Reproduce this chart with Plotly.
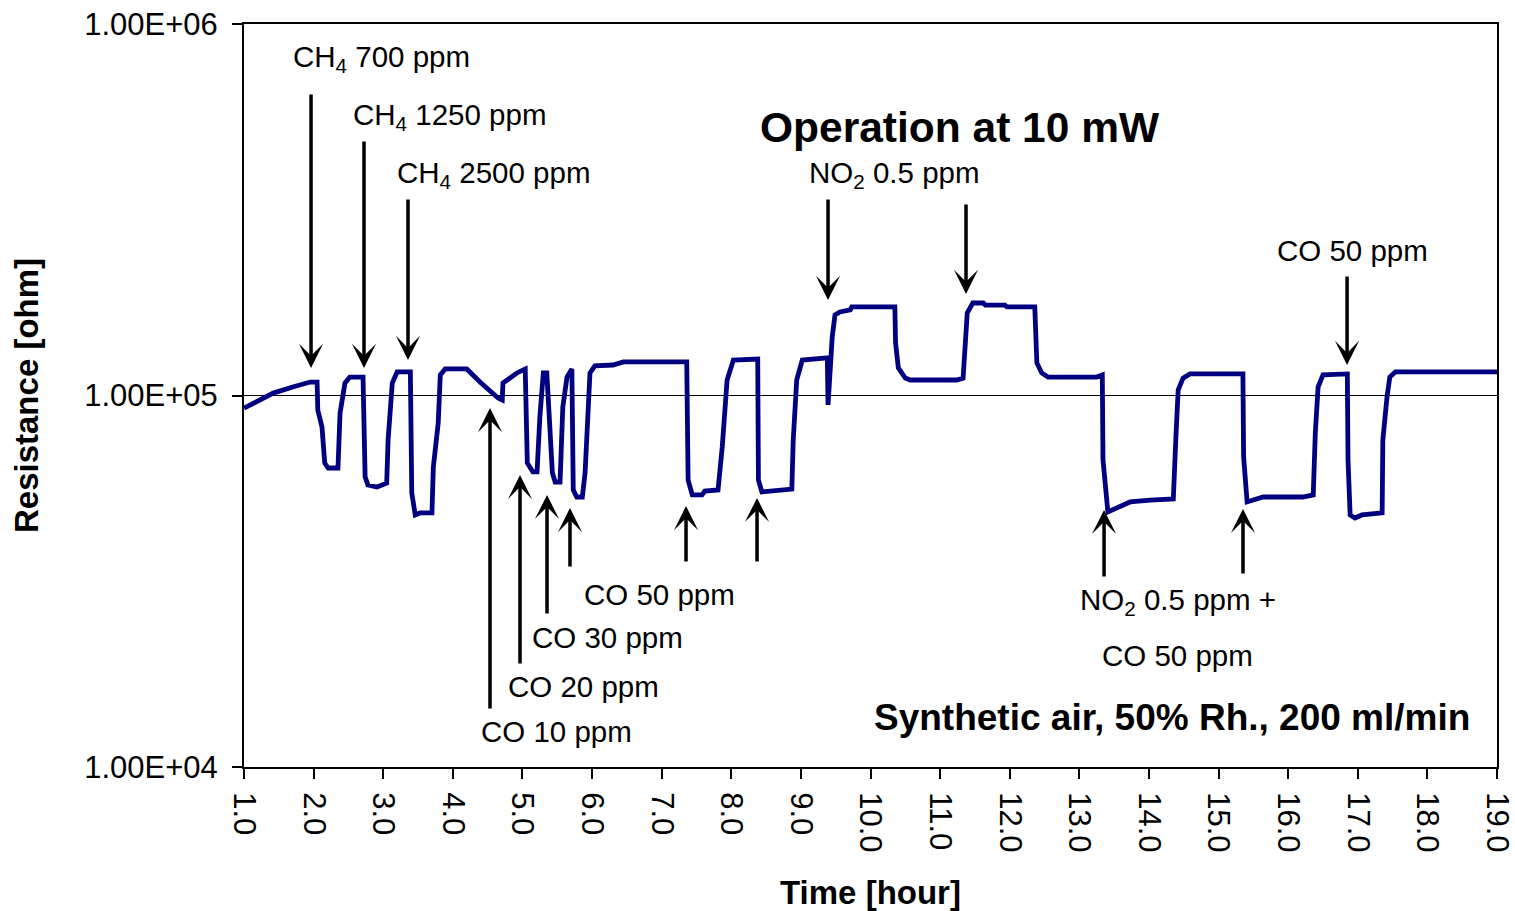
import numpy as np
import plotly.graph_objects as go

# ---- measured series (time in hours, resistance in ohm) ----
time_h = [1.00, 1.42, 1.70, 1.95, 2.05,
          2.06, 2.12, 2.16, 2.21, 2.35,
          2.38, 2.45, 2.52, 2.71,
          2.74, 2.78, 2.91, 3.05,
          3.07, 3.13, 3.20, 3.39,
          3.41, 3.46, 3.53, 3.70,
          3.72, 3.79, 3.82, 3.89, 4.20,
          4.39, 4.65, 4.71,
          4.72, 4.92, 5.04,
          5.07, 5.15, 5.21,
          5.25, 5.30, 5.35,
          5.43, 5.47, 5.54,
          5.58, 5.64, 5.71,
          5.73, 5.78, 5.86,
          5.90, 5.97, 6.04, 6.30, 6.45, 7.36,
          7.38, 7.44, 7.58, 7.62, 7.81,
          7.87, 7.94, 8.03, 8.38,
          8.39, 8.44, 8.60, 8.87,
          8.89, 8.94, 9.02, 9.38,
          9.39, 9.42, 9.45, 9.49, 9.56, 9.71, 9.73, 10.35,
          10.36, 10.40, 10.50, 10.57, 11.24, 11.33,
          11.39, 11.47, 11.62, 11.65, 11.93, 11.96, 12.36,
          12.39, 12.46, 12.55, 13.25, 13.33,
          13.34, 13.41, 13.58, 13.73, 14.02, 14.35,
          14.39, 14.42, 14.49, 14.59, 15.35,
          15.36, 15.41, 15.48, 15.64, 16.21, 16.36,
          16.39, 16.43, 16.50, 16.85,
          16.86, 16.89, 16.96, 17.06, 17.35,
          17.36, 17.42, 17.46, 17.54, 19.00]

resistance_ohm = [92500, 101500, 105400, 108700, 108700,
                  91400, 82300, 65800, 63800, 63800,
                  89700, 108000, 112100, 112100,
                  60400, 57400, 56700, 58100,
                  75900, 108000, 115700, 115700,
                  54700, 47700, 48300, 48300,
                  64200, 84300, 113600, 117900, 117900,
                  108700, 98500, 97300,
                  108000, 115000, 117900,
                  65800, 62300, 62300,
                  87500, 115000, 115000,
                  61900, 58500, 58500,
                  93100, 112100, 117900,
                  55700, 53300, 53300,
                  61900, 115000, 120100, 120800, 123100, 123100,
                  59200, 54000, 54000, 55300, 55700,
                  72700, 110100, 124600, 125400,
                  59200, 55000, 55300, 56000,
                  75900, 110100, 124600, 126200,
                  94300, 122300, 143700, 164700, 167800, 169900, 173100, 173100,
                  138500, 118600, 111400, 110100, 110100, 111400,
                  166800, 177400, 177400, 175200, 175200, 173100, 173100,
                  122300, 115000, 112100, 112100, 113600,
                  67100, 48600, 50100, 51700, 52300, 52700,
                  79300, 103500, 111400, 114300, 114300,
                  68300, 51700, 52300, 53300, 53300, 54000,
                  79300, 105400, 113600, 114300,
                  67100, 47700, 46800, 47700, 48300,
                  75900, 99100, 112100, 115700, 115700]

# ---- gas-event arrows: event time, arrow tip and tail resistance ----
arrow_time_h = [1.963, 2.724, 3.356, 9.390, 11.372, 16.846,
                4.534, 4.965, 5.353, 5.683, 7.350, 8.370, 13.355, 15.351]
arrow_tip_ohm = [118600, 118600, 124600, 180800, 187600, 120800,
                 92500, 61100, 54000, 49800, 50400, 53000, 49200, 49500]
arrow_tail_ohm = [652000, 487300, 340100, 340100, 329800, 211100,
                  14240, 18820, 25660, 34340, 35410, 35410, 32270, 32870]

# ---- labels ----
event_labels = ["CH<sub>4</sub> 700 ppm", "CH<sub>4</sub> 1250 ppm", "CH<sub>4</sub> 2500 ppm",
                "NO<sub>2</sub> 0.5 ppm", "CO 50 ppm",
                "CO 10 ppm", "CO 20 ppm", "CO 30 ppm", "CO 50 ppm",
                "NO<sub>2</sub> 0.5 ppm +", "CO 50 ppm"]
label_x_h = [1.68, 2.53, 3.17, 9.09, 15.81, 4.37, 4.77, 5.11, 5.86, 12.98, 13.30]
label_y_ohm = [810000, 565400, 392300, 392300, 246400, 12500, 16520, 22250, 29220, 27980, 19900]

x_tick_vals = list(range(1, 20))
x_tick_text = ["1.0", "2.0", "3.0", "4.0", "5.0", "6.0", "7.0", "8.0", "9.0", "10.0",
               "11.0", "12.0", "13.0", "14.0", "15.0", "16.0", "17.0", "18.0", "19.0"]
y_tick_vals = [1e4, 1e5, 1e6]
y_tick_text = ["1.00E+04", "1.00E+05", "1.00E+06"]

FONT = "Arial, 'Liberation Sans', sans-serif"

fig = go.Figure()
fig.add_trace(go.Scatter(x=time_h, y=resistance_ohm, mode="lines",
                         line=dict(color="#000080", width=4.8),
                         showlegend=False, hoverinfo="x+y"))

annotations = []
for t, tip, tail in zip(arrow_time_h, arrow_tip_ohm, arrow_tail_ohm):
    annotations.append(dict(x=t, y=np.log10(tip), xref="x", yref="y",
                            ax=t, ay=np.log10(tail), axref="x", ayref="y",
                            text="", showarrow=True, arrowhead=3, arrowsize=1.15,
                            arrowwidth=3.5, arrowcolor="black", standoff=0))
for txt, lx, ly in zip(event_labels, label_x_h, label_y_ohm):
    annotations.append(dict(x=lx, y=np.log10(ly), xref="x", yref="y", text=txt,
                            showarrow=False, xanchor="left", yanchor="middle",
                            font=dict(family=FONT, size=29.5, color="black")))
annotations.append(dict(x=8.38, y=np.log10(525000), xref="x", yref="y",
                        text="<b>Operation at 10 mW</b>", showarrow=False,
                        xanchor="left", yanchor="middle",
                        font=dict(family=FONT, size=42.5, color="black")))
annotations.append(dict(x=18.641, y=np.log10(13630), xref="x", yref="y",
                        text="<b>Synthetic air, 50% Rh., 200 ml/min</b>", showarrow=False,
                        xanchor="right", yanchor="middle",
                        font=dict(family=FONT, size=37, color="black")))

fig.update_layout(
    width=1515, height=911,
    margin=dict(l=244, r=18, t=24, b=144, autoexpand=False),
    paper_bgcolor="white", plot_bgcolor="white",
    font=dict(family=FONT, color="black"),
    annotations=annotations,
    xaxis=dict(range=[1, 19], tickvals=x_tick_vals, ticktext=x_tick_text,
               tickangle=90, ticks="outside", ticklen=10, tickwidth=1.5, tickcolor="black",
               ticklabelstandoff=7, automargin=False,
               showgrid=False, zeroline=False, showline=True, linewidth=2,
               linecolor="black", mirror=True,
               tickfont=dict(family=FONT, size=31, color="black"),
               title=dict(text="<b>Time [hour]</b>", standoff=30,
                          font=dict(family=FONT, size=33, color="black"))),
    yaxis=dict(type="log", range=[4, 6], tickvals=y_tick_vals, ticktext=y_tick_text,
               ticks="outside", ticklen=10, tickwidth=1.5, tickcolor="black",
               ticklabelstandoff=8, automargin=False,
               showgrid=True, gridcolor="black", gridwidth=1, zeroline=False,
               showline=True, linewidth=2, linecolor="black", mirror=True,
               tickfont=dict(family=FONT, size=31, color="black"),
               title=dict(text="<b>Resistance [ohm]</b>", standoff=36,
                          font=dict(family=FONT, size=33, color="black"))),
)

fig.write_html("out.html")
